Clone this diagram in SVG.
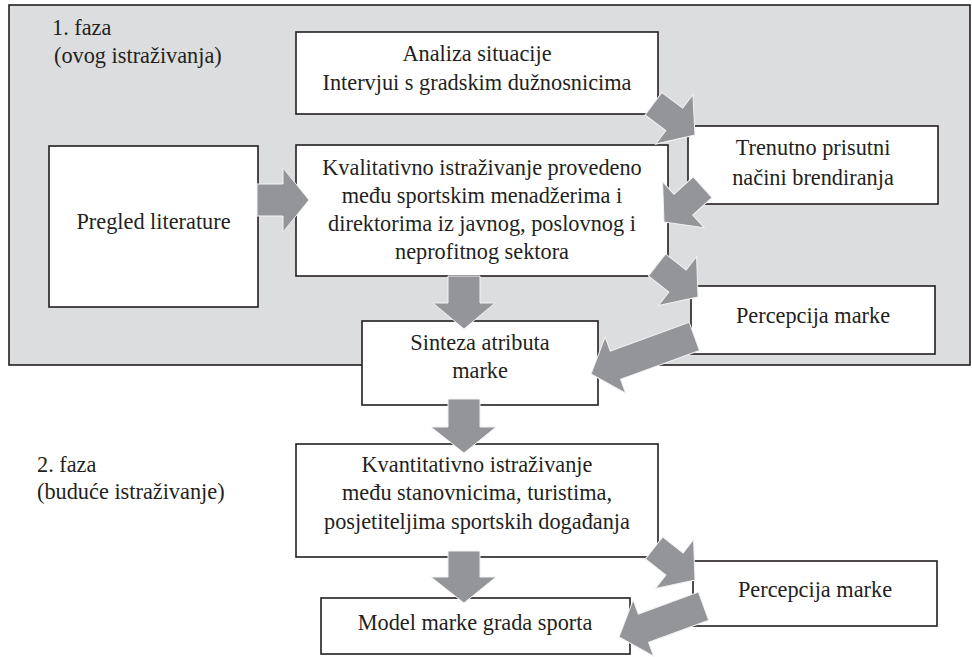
<svg xmlns="http://www.w3.org/2000/svg" width="972" height="657" viewBox="0 0 972 657">
<style>
.box{fill:#fff;stroke:#231f20;stroke-width:1.6}
.t{font-family:'Liberation Serif','Times New Roman',serif;font-size:22.3px;fill:#231f20}
.c{text-anchor:middle}
.arr{fill:#939598;stroke:#f2f2f2;stroke-width:1;stroke-linejoin:miter}
</style>
<rect width="972" height="657" fill="#fff"/>
<g id="phase1">
<rect x="9" y="5" width="961" height="360" fill="#dcdddf" stroke="#231f20" stroke-width="1.6"/>
<text class="t" x="52" y="35">1. faza</text>
<text class="t" x="54" y="63">(ovog istraživanja)</text>
</g>
<g id="phase2">
<text class="t" x="37" y="472">2. faza</text>
<text class="t" x="37" y="499">(buduće istraživanje)</text>
</g>
<g id="analiza">
<rect class="box" x="296" y="32" width="362" height="82"/>
<text class="t c" x="477" y="61">Analiza situacije</text>
<text class="t c" x="477" y="90">Intervjui s gradskim dužnosnicima</text>
</g>
<g id="pregled">
<rect class="box" x="49" y="146" width="209" height="161"/>
<text class="t c" x="153.5" y="229">Pregled literature</text>
</g>
<g id="kvalitativno">
<rect class="box" x="296" y="145" width="372" height="131"/>
<text class="t c" x="482" y="175">Kvalitativno istraživanje provedeno</text>
<text class="t c" x="482" y="203">među sportskim menadžerima i</text>
<text class="t c" x="482" y="231">direktorima iz javnog, poslovnog i</text>
<text class="t c" x="482" y="259">neprofitnog sektora</text>
</g>
<g id="trenutno">
<rect class="box" x="688" y="126" width="250" height="78"/>
<text class="t c" x="813" y="155">Trenutno prisutni</text>
<text class="t c" x="813" y="185">načini brendiranja</text>
</g>
<g id="percepcija1">
<rect class="box" x="691" y="286" width="244" height="68"/>
<text class="t c" x="813" y="323">Percepcija marke</text>
</g>
<g id="sinteza">
<rect class="box" x="362" y="321" width="236" height="84"/>
<text class="t c" x="480" y="350">Sinteza atributa</text>
<text class="t c" x="480" y="378">marke</text>
</g>
<g id="kvantitativno">
<rect class="box" x="296" y="444" width="362" height="113"/>
<text class="t c" x="477" y="472">Kvantitativno istraživanje</text>
<text class="t c" x="477" y="500">među stanovnicima, turistima,</text>
<text class="t c" x="477" y="529">posjetiteljima sportskih događanja</text>
</g>
<g id="percepcija2">
<rect class="box" x="693" y="561" width="244" height="65"/>
<text class="t c" x="815" y="597">Percepcija marke</text>
</g>
<g id="model">
<rect class="box" x="321" y="598" width="309" height="56"/>
<text class="t c" x="475" y="630">Model marke grada sporta</text>
</g>
<g id="connectors">
<polygon class="arr" points="257,184 283,184 283,168 309,200 283,232 283,216 257,216"/>
<polygon class="arr" points="448,276 480,276 480,303 495,303 464,329 433,303 448,303"/>
<polygon class="arr" points="448,399 480,399 480,427 496,427 464,453 431,427 448,427"/>
<polygon class="arr" points="448,551 480,551 480,577 496,577 464,603 431,577 448,577"/>
<polygon class="arr" transform="translate(695,135) rotate(37)" points="-52,-14 -26,-14 -26,-31 0,0 -26,31 -26,14 -52,14"/>
<polygon class="arr" transform="translate(664,222) rotate(138)" points="-52,-14 -26,-14 -26,-31 0,0 -26,31 -26,14 -52,14"/>
<polygon class="arr" transform="translate(698,297) rotate(38)" points="-52,-14 -26,-14 -26,-31 0,0 -26,31 -26,14 -52,14"/>
<polygon class="arr" transform="translate(695,580) rotate(38)" points="-52,-14 -26,-14 -26,-31 0,0 -26,31 -26,14 -52,14"/>
<polygon class="arr" transform="translate(591,374) rotate(160)" points="-110,-15 -26,-15 -26,-30 0,0 -26,30 -26,15 -110,15"/>
<polygon class="arr" transform="translate(619,637) rotate(160)" points="-90,-15 -26,-15 -26,-30 0,0 -26,30 -26,15 -90,15"/>
</g>
</svg>
